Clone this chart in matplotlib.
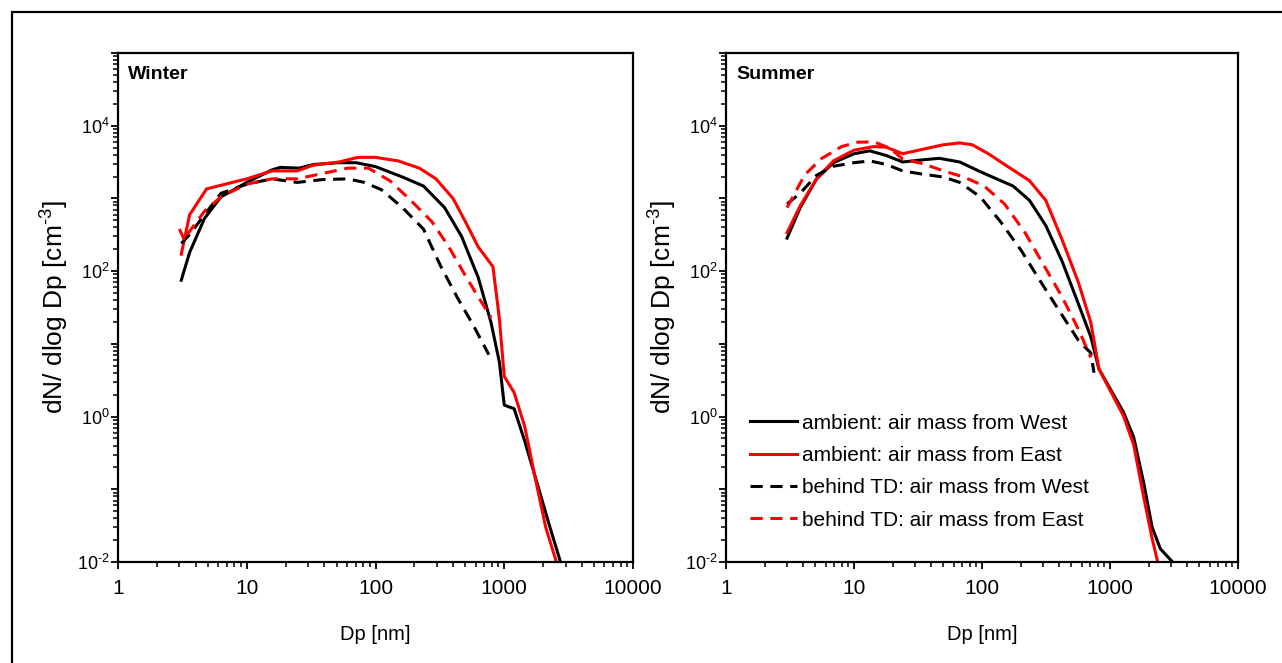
import numpy as np
import matplotlib
matplotlib.use("Agg")
import matplotlib.pyplot as plt
from matplotlib.patches import Rectangle
from matplotlib.ticker import LogLocator, NullFormatter

plt.rcParams['font.family'] = ['Liberation Sans', 'DejaVu Sans']
plt.rcParams['mathtext.fontset'] = 'custom'
plt.rcParams['mathtext.rm'] = 'Liberation Sans'
plt.rcParams['mathtext.it'] = 'Liberation Sans'
plt.rcParams['mathtext.bf'] = 'Liberation Sans:bold'

# ---- data ----
# Winter
w_amb_west_dp = [3.1, 3.6, 4.7, 6.3, 10, 15.7, 18.2, 25.6, 33, 52, 70.7, 100, 162, 236, 344, 466,
                 629, 789, 917, 1000, 1194, 1442, 1808, 2265, 2735]
w_amb_west_n = [75, 181, 532, 1050, 1660, 2470, 2670, 2610, 2930, 3100, 3100, 2740, 1970, 1480, 748, 301,
                81, 19.7, 5.6, 1.44, 1.28, 0.46, 0.118, 0.030, 0.01]
w_amb_east_dp = [3.1, 3.6, 4.87, 6.8, 10, 15.7, 24.6, 33, 52, 73, 100, 150, 219, 295, 401, 500,
                 629, 817, 917, 1000, 1194, 1442, 1733, 2100, 2540]
w_amb_east_n = [171, 596, 1350, 1570, 1860, 2390, 2390, 2870, 3170, 3670, 3670, 3280, 2610, 1860, 995, 475,
                214, 115, 22, 3.57, 2.14, 0.73, 0.148, 0.030, 0.01]
w_td_west_dp = [3.1, 3.6, 4.7, 6.3, 10, 15.7, 24.6, 38.7, 60.8, 82, 111, 162, 236, 318, 430, 580, 759]
w_td_west_n = [240, 319, 596, 1175, 1570, 1860, 1660, 1815, 1860, 1660, 1320, 748, 378, 121, 44, 17.5, 7.1]
w_td_east_dp = [3.0, 3.3, 3.5, 4.7, 6.3, 10, 15.7, 24.6, 38.7, 60.8, 88, 129, 188, 275, 372, 500, 629, 789]
w_td_east_n = [380, 260, 330, 668, 1050, 1570, 1860, 1860, 2200, 2610, 2610, 1755, 940, 475, 214, 86, 44, 23]

# Summer
s_amb_west_dp = [3.0, 3.8, 5.1, 6.9, 10, 13.3, 17.9, 24, 34.7, 46.5, 67, 97, 140, 175, 235, 315, 423,
                 568, 708, 820, 1023, 1274, 1531, 1842, 2134, 2473, 3083]
s_amb_west_n = [285, 748, 1860, 3100, 4120, 4510, 3890, 3170, 3400, 3560, 3170, 2330, 1755, 1480, 940, 424, 136,
                35, 12.5, 4.5, 2.27, 1.15, 0.52, 0.118, 0.030, 0.0152, 0.01]
s_amb_east_dp = [3.0, 3.8, 5.1, 6.9, 10, 14.3, 17.9, 24, 37.3, 50, 67, 84, 112, 150, 235, 315, 423,
                 568, 708, 820, 1023, 1274, 1531, 1842, 2134, 2360]
s_amb_east_n = [338, 793, 1860, 3280, 4610, 5170, 5060, 4120, 4890, 5470, 5800, 5470, 4120, 2930, 1755, 940, 269,
                69, 19.7, 4.5, 2.14, 1.02, 0.41, 0.075, 0.021, 0.01]
s_td_west_dp = [3.0, 3.8, 5.1, 6.9, 10, 13.3, 17.9, 24, 34.7, 50, 67, 97, 140, 203, 291, 423, 568, 708, 750]
s_td_west_n = [838, 1180, 2080, 2770, 3100, 3280, 2930, 2390, 2150, 1970, 1660, 1050, 475, 191, 69, 24.7, 11.1,
               7.5, 4.0]
s_td_east_dp = [3.0, 4.1, 5.5, 8, 10.7, 14.3, 19.2, 24, 34.7, 50, 72, 104, 150, 217, 315, 423, 568, 708]
s_td_east_n = [748, 2080, 3480, 5170, 5930, 6000, 4890, 3480, 3000, 2390, 1970, 1480, 838, 338, 108, 44, 15.7, 6.5]

labels = ["ambient: air mass from West", "ambient: air mass from East",
          "behind TD: air mass from West", "behind TD: air mass from East"]
x_ticks = [1, 10, 100, 1000, 10000]
x_ticklabels = ["1", "10", "100", "1000", "10000"]
y_ticks = [1e-2, 1e-1, 1e0, 1e1, 1e2, 1e3, 1e4, 1e5]
y_ticklabels = [r"$10^{\text{-2}}$", "", r"$10^{0}$", "", r"$10^{2}$", "", r"$10^{4}$", ""]

fig = plt.figure(figsize=(12.82, 6.63), dpi=100)

# outer frame (open at right and bottom like the source image)
fig.patches.append(Rectangle((12 / 1282, -0.2), 1.5, 1.2 - 12 / 663,
                             transform=fig.transFigure, fill=False, lw=1.6, ec='black'))

ax_w = fig.add_axes([118 / 1282, 1 - 562 / 663, 515 / 1282, 509 / 663])
ax_s = fig.add_axes([726 / 1282, 1 - 562 / 663, 512 / 1282, 509 / 663])

dash = (4, 2.5)


def draw_panel(ax, data, title):
    (aw_dp, aw_n), (ae_dp, ae_n), (tw_dp, tw_n), (te_dp, te_n) = data
    ax.plot(aw_dp, aw_n, color='black', lw=2.2, label=labels[0])
    ax.plot(ae_dp, ae_n, color='red', lw=2.2, label=labels[1])
    ax.plot(tw_dp, tw_n, color='black', lw=2.2, dashes=dash, label=labels[2])
    ax.plot(te_dp, te_n, color='red', lw=2.2, dashes=dash, label=labels[3])
    ax.set_xscale('log')
    ax.set_yscale('log')
    ax.set_xlim(1, 10000)
    ax.set_ylim(1e-2, 1e5)
    ax.set_xticks(x_ticks)
    ax.set_xticklabels(x_ticklabels)
    ax.set_yticks(y_ticks)
    ax.set_yticklabels(y_ticklabels)
    ax.xaxis.set_minor_locator(LogLocator(base=10, subs=np.arange(2, 10)))
    ax.yaxis.set_minor_locator(LogLocator(base=10, subs=np.arange(2, 10), numticks=20))
    ax.xaxis.set_minor_formatter(NullFormatter())
    ax.yaxis.set_minor_formatter(NullFormatter())
    ax.tick_params(which='major', direction='out', length=5, width=1.3)
    ax.tick_params(which='minor', direction='out', length=3.5, width=1.1)
    ax.tick_params(axis='x', which='major', labelsize=15, pad=7)
    ax.tick_params(axis='y', which='major', labelsize=13, pad=1)
    for sp in ax.spines.values():
        sp.set_linewidth(1.6)
    ax.set_xlabel("Dp [nm]", fontsize=14.5, labelpad=20)
    ax.set_ylabel("dN/ dlog Dp [cm$^{\\text{-3}}$]", fontsize=19, labelpad=4)
    ax.text(0.02, 0.957, title, transform=ax.transAxes, fontsize=14, fontweight='bold',
            va='center', ha='left')


draw_panel(ax_w, [(w_amb_west_dp, w_amb_west_n), (w_amb_east_dp, w_amb_east_n),
                  (w_td_west_dp, w_td_west_n), (w_td_east_dp, w_td_east_n)], "Winter")
draw_panel(ax_s, [(s_amb_west_dp, s_amb_west_n), (s_amb_east_dp, s_amb_east_n),
                  (s_td_west_dp, s_td_west_n), (s_td_east_dp, s_td_east_n)], "Summer")

ax_s.legend(loc='upper left', bbox_to_anchor=(0.03, 0.308), frameon=False, fontsize=15,
            handlelength=2.26, handletextpad=0.25, labelspacing=0.64, borderaxespad=0)

fig.savefig("out.png", dpi=100)
